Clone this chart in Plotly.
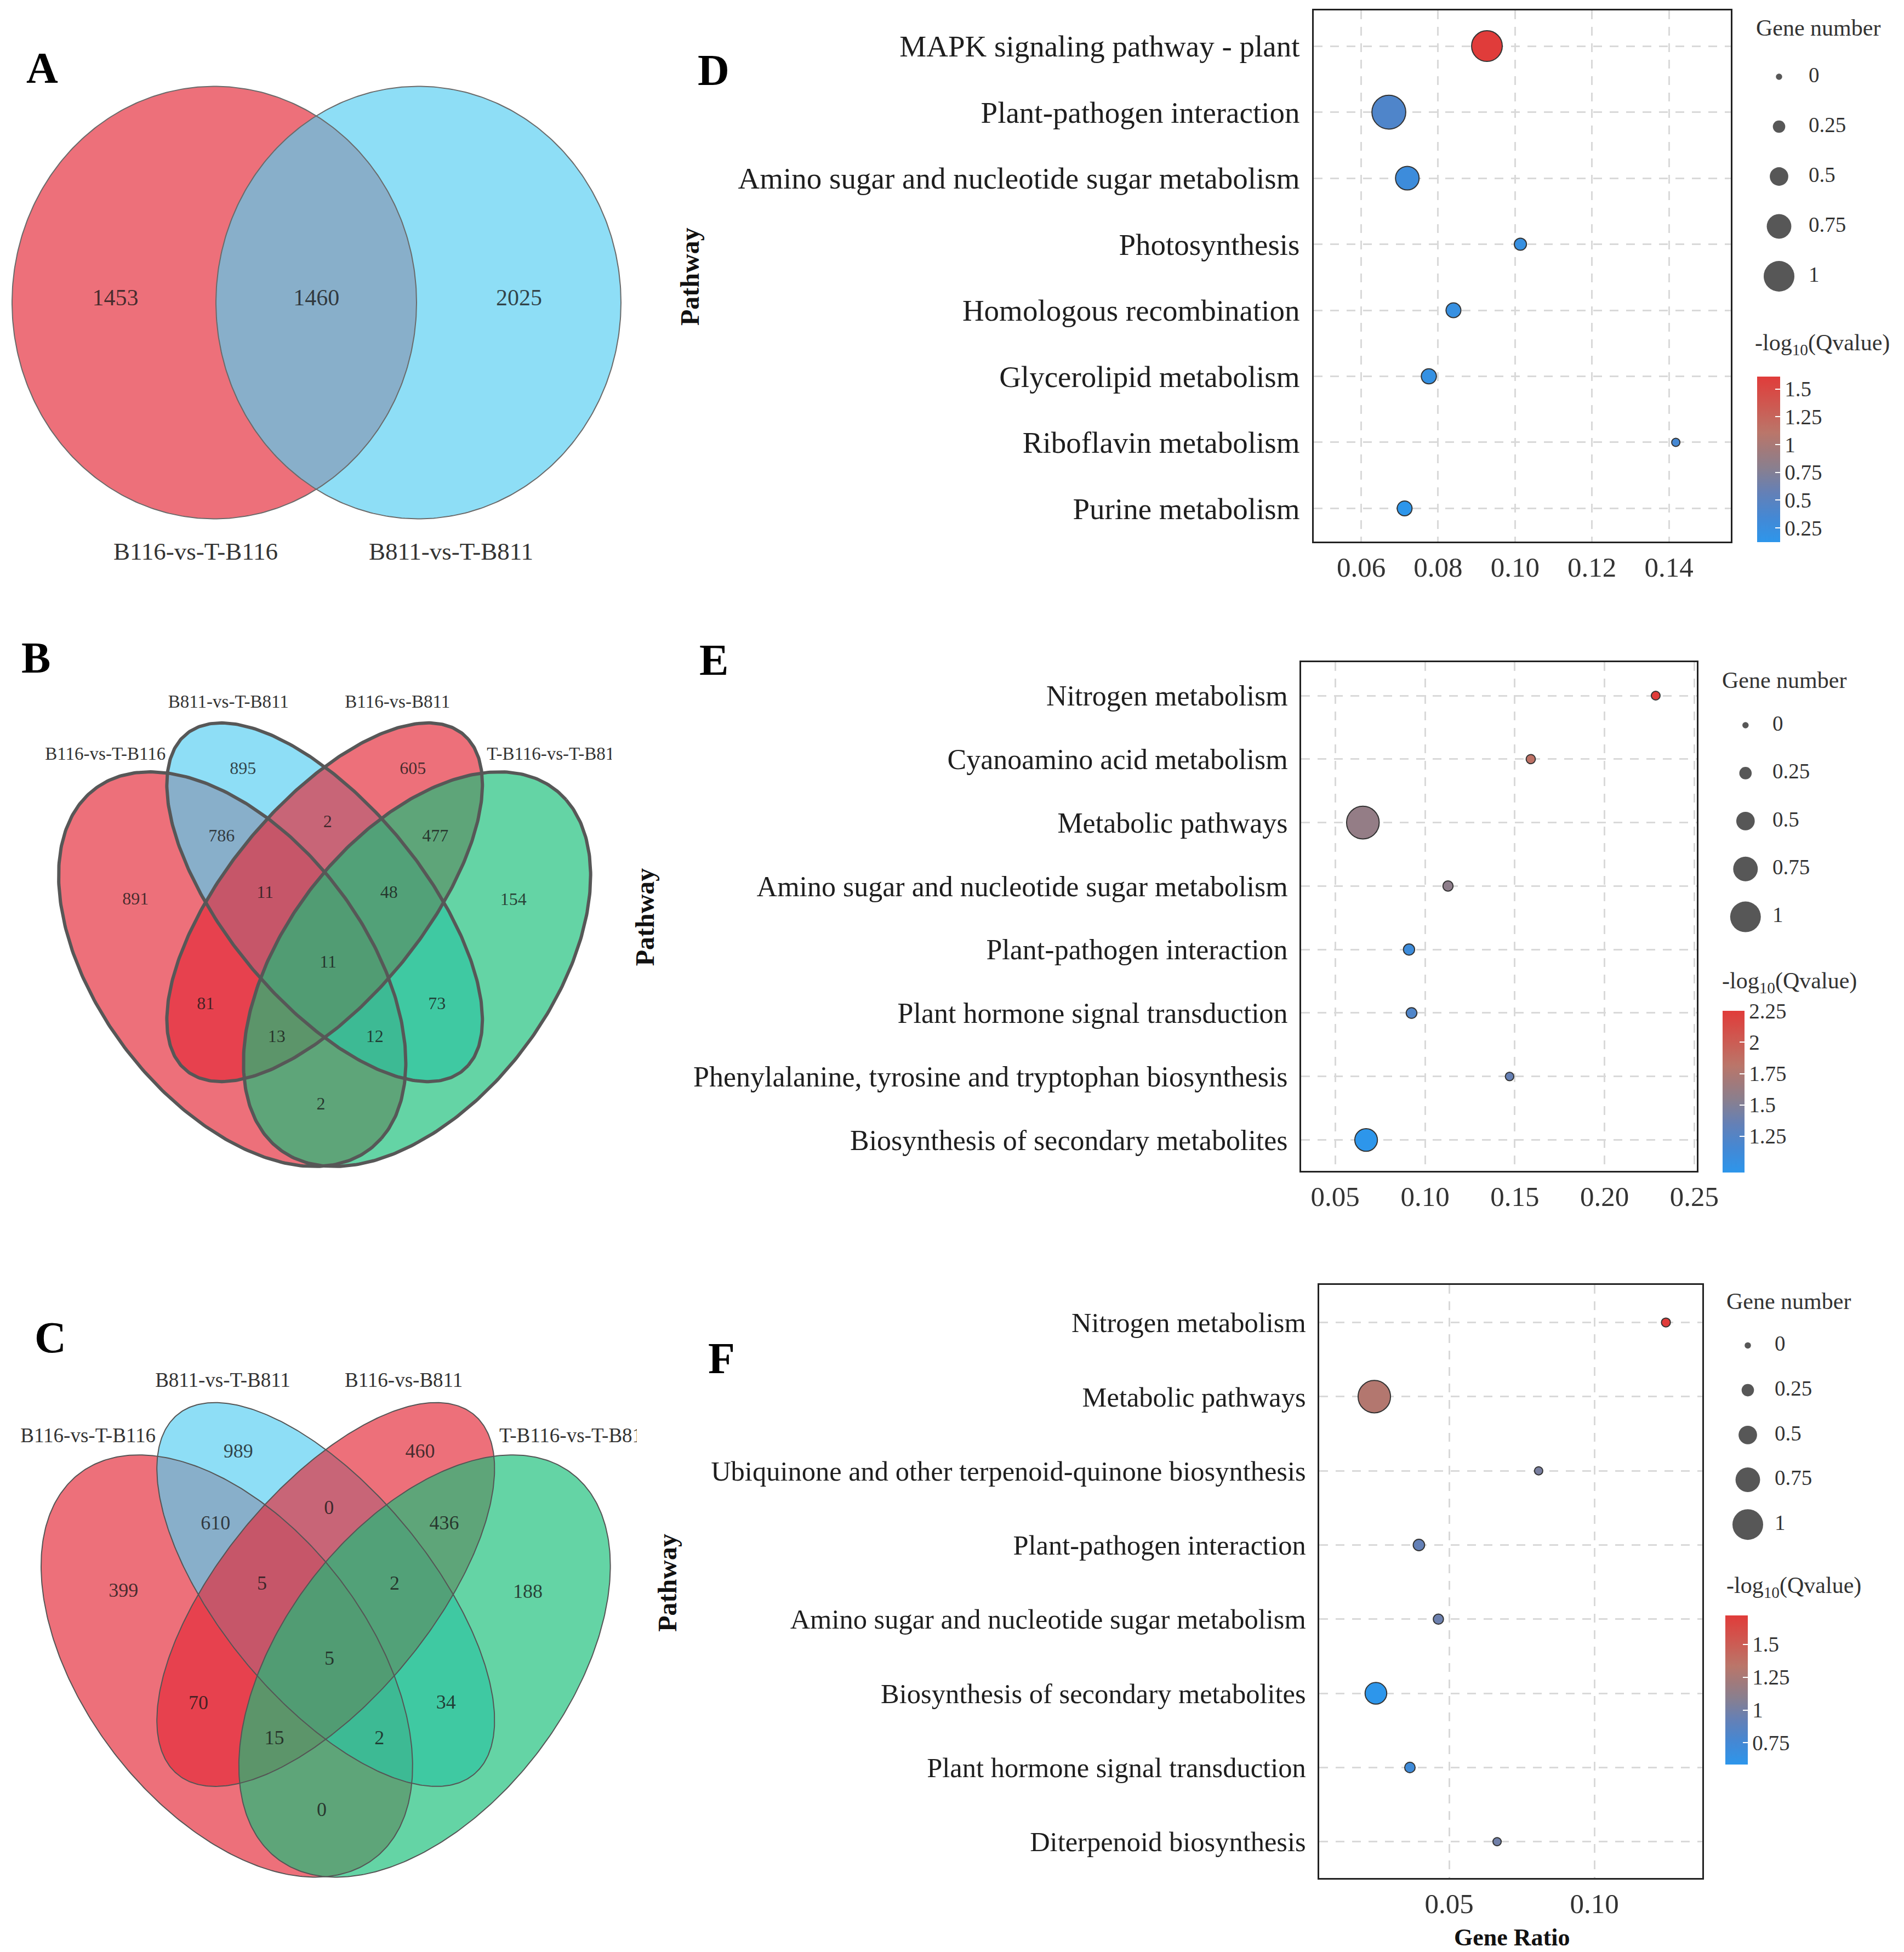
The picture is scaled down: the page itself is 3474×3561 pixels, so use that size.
import numpy as np
import plotly.graph_objects as go

W, H = 3474, 3561
SERIF = "Liberation Serif, Times New Roman, serif"

# ---------------------------------------------------------------- data
venn2_sets = ["B116-vs-T-B116", "B811-vs-T-B811"]
venn2_counts = [1453, 1460, 2025]          # left only, shared, right only

venn4_sets = ["B116-vs-T-B116", "B811-vs-T-B811", "B116-vs-B811", "T-B116-vs-T-B811"]
venn4_regions = ["1", "2", "3", "4", "12", "23", "34", "123", "234", "1234",
                 "13", "24", "134", "124", "14"]
vennB_counts = [891, 895, 605, 154, 786, 2, 477, 11, 48, 11, 81, 73, 13, 12, 2]
vennC_counts = [399, 989, 460, 188, 610, 0, 436, 5, 2, 5, 70, 34, 15, 2, 0]

pathD = ["MAPK signaling pathway - plant", "Plant-pathogen interaction",
         "Amino sugar and nucleotide sugar metabolism", "Photosynthesis",
         "Homologous recombination", "Glycerolipid metabolism",
         "Riboflavin metabolism", "Purine metabolism"]
ratioD = [0.0927, 0.0672, 0.0720, 0.1014, 0.0840, 0.0776, 0.1418, 0.0713]
geneD = [1.00, 1.13, 0.71, 0.24, 0.35, 0.36, 0.08, 0.35]
qD = [1.61, 0.42, 0.28, 0.22, 0.22, 0.20, 0.35, 0.12]

pathE = ["Nitrogen metabolism", "Cyanoamino acid metabolism", "Metabolic pathways",
         "Amino sugar and nucleotide sugar metabolism", "Plant-pathogen interaction",
         "Plant hormone signal transduction",
         "Phenylalanine, tyrosine and tryptophan biosynthesis",
         "Biosynthesis of secondary metabolites"]
ratioE = [0.2285, 0.1589, 0.0654, 0.1128, 0.0911, 0.0925, 0.1471, 0.0672]
geneE = [0.10, 0.12, 1.08, 0.16, 0.20, 0.18, 0.09, 0.67]
qE = [2.25, 1.85, 1.60, 1.56, 1.09, 1.22, 1.35, 0.958]

pathF = ["Nitrogen metabolism", "Metabolic pathways",
         "Ubiquinone and other terpenoid-quinone biosynthesis",
         "Plant-pathogen interaction", "Amino sugar and nucleotide sugar metabolism",
         "Biosynthesis of secondary metabolites", "Plant hormone signal transduction",
         "Diterpenoid biosynthesis"]
ratioF = [0.1246, 0.02425, 0.0808, 0.0396, 0.0463, 0.0248, 0.0365, 0.0665]
geneF = [0.11, 1.07, 0.08, 0.21, 0.16, 0.63, 0.17, 0.08]
qF = [1.719, 1.30, 1.02, 0.92, 0.96, 0.583, 0.72, 0.98]

size_breaks = [0, 0.25, 0.5, 0.75, 1]

# ---------------------------------------------------------------- style / layout constants
def dsize(v):
    return 11.5 + 44.5 * v

CS = [[0.0, "rgb(45,150,235)"], [0.15, "rgb(68,136,212)"], [0.3, "rgb(100,128,182)"],
      [0.45, "rgb(138,127,142)"], [0.55, "rgb(160,122,124)"], [0.66, "rgb(186,118,106)"],
      [0.82, "rgb(205,90,82)"], [1.0, "rgb(224,60,58)"]]

RED = "rgba(228,42,57,0.67)"
BLUE = "rgba(87,206,242,0.67)"
GREEN = "rgba(24,191,121,0.67)"
NUMCOL = "rgba(25,25,25,0.8)"

SX = 0.88
ELL4 = [(-191.6, 122, 437, 261, 45), (0, 0, 421, 192, 45),
        (0, 0, 421, 192, -45), (191.6, 122, 437, 261, -45)]
FILL4 = [RED, BLUE, RED, GREEN]
REG_OFF = {"1": (-345, -4.5), "2": (-149, -242), "3": (161, -242), "4": (344.5, -3),
           "12": (-188, -119.5), "23": (5.5, -145.5), "34": (202, -119.5),
           "123": (-108.6, -16.5), "234": (117.5, -16.5), "1234": (6.3, 111),
           "13": (-217, 187), "24": (205, 186.5), "134": (-87.6, 246.6),
           "124": (91.5, 246.6), "14": (-6.8, 369.8)}
SETLAB = [((-290, -268), "middle left"), ((-175.5, -363), "middle center"),
          ((133, -363), "middle center"), ((296, -268), "middle right")]


def ellipse(cx, cy, a, b, ang, sx=1.0, s=1.0, ox=0.0, oy=0.0, n=400):
    t = np.linspace(0, 2 * np.pi, n)
    c, sn = np.cos(np.radians(ang)), np.sin(np.radians(ang))
    u, v = a * np.cos(t), b * np.sin(t)
    x = cx + s * sx * (ox + u * c - v * sn)
    y = cy + s * (oy + u * sn + v * c)
    return x, y


fig = go.Figure()

# ---------------------------------------------------------------- Venn A
xa, ya = "x", "y"
ellA = [(391, 552, 369, 394.5, RED), (763.5, 552, 369.5, 394.5, BLUE)]
for cx, cy, rx, ry, col in ellA:
    x, y = ellipse(cx, cy, rx, ry, 0)
    fig.add_trace(go.Scatter(x=x, y=y, mode="lines", fill="toself", fillcolor=col,
                             line=dict(width=0, color="rgba(0,0,0,0)"),
                             xaxis=xa, yaxis=ya, hoverinfo="skip"))
for cx, cy, rx, ry, col in ellA:
    x, y = ellipse(cx, cy, rx, ry, 0)
    fig.add_trace(go.Scatter(x=x, y=y, mode="lines", line=dict(width=2, color="#6a6a6a"),
                             xaxis=xa, yaxis=ya, hoverinfo="skip"))
cxL, cxR = ellA[0][0], ellA[1][0]
fig.add_trace(go.Scatter(x=[cxL - 180.5, (cxL + cxR) / 2, cxR + 183.5], y=[546] * 3,
                         mode="text", text=[str(v) for v in venn2_counts],
                         textfont=dict(family=SERIF, size=42, color=NUMCOL),
                         xaxis=xa, yaxis=ya, hoverinfo="skip"))
fig.add_trace(go.Scatter(x=[cxL - 34, cxR + 59.5], y=[1010, 1010], mode="text",
                         text=venn2_sets, textfont=dict(family=SERIF, size=45, color="#333"),
                         xaxis=xa, yaxis=ya, hoverinfo="skip"))


# ---------------------------------------------------------------- Venn B / C
def venn4(counts, cx, cy, s, xa, ya, lw, lcol, nsize, lsize):
    for (ox, oy, a, b, ang), col in zip(ELL4, FILL4):
        x, y = ellipse(cx, cy, a, b, ang, SX, s, ox, oy)
        fig.add_trace(go.Scatter(x=x, y=y, mode="lines", fill="toself", fillcolor=col,
                                 line=dict(width=0, color="rgba(0,0,0,0)"),
                                 xaxis=xa, yaxis=ya, hoverinfo="skip"))
    for (ox, oy, a, b, ang) in ELL4:
        x, y = ellipse(cx, cy, a, b, ang, SX, s, ox, oy)
        fig.add_trace(go.Scatter(x=x, y=y, mode="lines", line=dict(width=lw, color=lcol),
                                 xaxis=xa, yaxis=ya, hoverinfo="skip"))
    fig.add_trace(go.Scatter(
        x=[cx + s * REG_OFF[r][0] for r in venn4_regions],
        y=[cy + s * REG_OFF[r][1] for r in venn4_regions],
        mode="text", text=[str(c) for c in counts],
        textfont=dict(family=SERIF, size=nsize, color=NUMCOL),
        xaxis=xa, yaxis=ya, hoverinfo="skip", cliponaxis=True))
    for name, ((ox, oy), pos) in zip(venn4_sets, SETLAB):
        fig.add_trace(go.Scatter(x=[cx + s * ox], y=[cy + s * oy], mode="text", text=[name],
                                 textposition=pos,
                                 textfont=dict(family=SERIF, size=lsize, color="#333"),
                                 xaxis=xa, yaxis=ya, hoverinfo="skip", cliponaxis=True))


venn4(vennB_counts, 592.3, 1646, 1.0, "x2", "y2", 6, "#575757", 32, 33)
venn4(vennC_counts, 594.3, 2908.8, 1.07, "x3", "y3", 2, "#555555", 36, 37)


# ---------------------------------------------------------------- dot plots
def cbar(x0, ytop, length, thick, tickvals):
    return dict(x=x0 / W, xanchor="left", xref="paper", y=1 - ytop / H, yanchor="top",
                yref="paper", len=length / H, lenmode="fraction", thickness=thick,
                thicknessmode="pixels", xpad=0, ypad=0, outlinewidth=0, ticks="inside",
                ticklen=9, tickwidth=2, tickcolor="white", tickvals=tickvals,
                ticktext=["{:g}".format(v) for v in tickvals],
                tickfont=dict(family=SERIF, size=39, color="#333"))


def dots(ratio, path, gene, q, xa, ya, cb):
    fig.add_trace(go.Scatter(
        x=ratio, y=path, mode="markers", xaxis=xa, yaxis=ya, hoverinfo="skip",
        marker=dict(size=[dsize(g) for g in gene], sizemode="diameter", color=q,
                    colorscale=CS, cmin=min(q), cmax=max(q), showscale=True,
                    line=dict(color="#333333", width=2), opacity=1, colorbar=cb)))


dots(ratioD, pathD, geneD, qD, "x4", "y4", cbar(3205.6, 687.5, 301.5, 42, [0.25, 0.5, 0.75, 1, 1.25, 1.5]))
dots(ratioE, pathE, geneE, qE, "x5", "y5", cbar(3143, 1844.4, 294.6, 40, [1.25, 1.5, 1.75, 2, 2.25]))
dots(ratioF, pathF, geneF, qF, "x6", "y6", cbar(3147.8, 2947.4, 271.8, 41, [0.75, 1, 1.25, 1.5]))

# size legends (overlay axis in pixel units)
for lx, ly0, step, tx in [(3246, 140, 91, 3300), (3184.8, 1323, 87.4, 3234), (3189, 2454.4, 81.7, 3238)]:
    ys = [ly0 + i * step for i in range(len(size_breaks))]
    fig.add_trace(go.Scatter(x=[lx] * len(size_breaks), y=ys, mode="markers",
                             marker=dict(size=[dsize(v) for v in size_breaks], color="#575757",
                                         opacity=1, line=dict(width=0)),
                             xaxis="x7", yaxis="y7", hoverinfo="skip", cliponaxis=False))
    fig.add_trace(go.Scatter(x=[tx] * len(size_breaks), y=ys, mode="text",
                             text=["{:g}".format(v) for v in size_breaks],
                             textposition="middle right",
                             textfont=dict(family=SERIF, size=39, color="#333"),
                             xaxis="x7", yaxis="y7", hoverinfo="skip", cliponaxis=False))


# ---------------------------------------------------------------- axes
def vax(x1, y0, y1):
    xa = dict(domain=[0, x1 / W], range=[0, x1], visible=False, fixedrange=True)
    ya = dict(domain=[1 - y1 / H, 1 - y0 / H], range=[y1, y0], visible=False, fixedrange=True)
    return xa, ya


def dx(box, rng, tickvals, fmt, anchor):
    return dict(domain=[box[0] / W, box[1] / W], range=rng, tickvals=tickvals,
                ticktext=[fmt.format(v) for v in tickvals], showgrid=True,
                gridcolor="#d9d9d9", gridwidth=3, griddash="16px,14px", zeroline=False,
                showline=True, linecolor="#222", linewidth=3, mirror=True,
                ticks="", tickfont=dict(family=SERIF, size=51, color="#333"), anchor=anchor)


def dy(box, rng, cats, fsize, anchor):
    return dict(domain=[1 - box[3] / H, 1 - box[2] / H], type="category",
                categoryorder="array", categoryarray=cats, range=rng, showgrid=True,
                gridcolor="#d9d9d9", gridwidth=3, griddash="16px,14px", zeroline=False,
                showline=True, linecolor="#222", linewidth=3, mirror=True,
                ticks="outside", ticklen=11, tickcolor="rgba(0,0,0,0)",
                tickfont=dict(family=SERIF, size=fsize, color="#1e1e1e"), anchor=anchor)


boxD = (2396.5, 3158, 19, 987.7)
boxE = (2374, 3096, 1208, 2135.6)
boxF = (2406.8, 3106.4, 2344, 3426)

xa1, ya1 = vax(1150, 0, 1100)
xa2, ya2 = vax(1116, 1100, 2250)
xa3, ya3 = vax(1162, 2250, H)

ann = []


def A(text, x, y, size, bold=False, xanchor="center", yanchor="middle", angle=0, color="#222"):
    ann.append(dict(text=f"<b>{text}</b>" if bold else text, x=x / W, y=1 - y / H,
                    xref="paper", yref="paper", showarrow=False, textangle=angle,
                    font=dict(family=SERIF, size=size, color=color),
                    xanchor=xanchor, yanchor=yanchor))


for L, x, y in [("A", 76.5, 124), ("B", 65, 1200), ("C", 92, 2440),
                ("D", 1301.5, 128), ("E", 1302.6, 1204), ("F", 1316, 2478)]:
    A(L, x, y, 80, bold=True, color="#000")
for x, y in [(1258, 505), (1176.7, 1672.6), (1216.7, 2887)]:
    A("Pathway", x, y, 48, bold=True, angle=-90, color="#111")
A("Gene Ratio", 2758, 3534.5, 44, bold=True, color="#111")
for x, y in [(3202, 51), (3140, 1241), (3148, 2374)]:
    A("Gene number", x, y, 42, xanchor="left", color="#333")
for x, y in [(3200, 628), (3140, 1792), (3148, 2895)]:
    A("-log<sub>10</sub>(Qvalue)", x, y, 42, xanchor="left", color="#333")

fig.update_layout(
    width=W, height=H, margin=dict(l=0, r=0, t=0, b=0, pad=0, autoexpand=False),
    paper_bgcolor="white", plot_bgcolor="rgba(0,0,0,0)", showlegend=False,
    font=dict(family=SERIF),
    xaxis=xa1, yaxis=ya1, xaxis2=xa2, yaxis2=ya2, xaxis3=xa3, yaxis3=ya3,
    xaxis4=dx(boxD, [0.0476, 0.1561], [0.06, 0.08, 0.10, 0.12, 0.14], "{:.2f}", "y4"),
    yaxis4=dy(boxD, [7.5, -0.54], pathD, 55, "x4"),
    xaxis5=dx(boxE, [0.031, 0.2514], [0.05, 0.10, 0.15, 0.20, 0.25], "{:.2f}", "y5"),
    yaxis5=dy(boxE, [7.484, -0.527], pathE, 52, "x5"),
    xaxis6=dx(boxF, [0.00525, 0.1372], [0.05, 0.10], "{:.2f}", "y6"),
    yaxis6=dy(boxF, [7.49, -0.507], pathF, 50.5, "x6"),
    xaxis7=dict(domain=[0, 1], range=[0, W], visible=False, fixedrange=True),
    yaxis7=dict(domain=[0, 1], range=[H, 0], visible=False, fixedrange=True),
    annotations=ann,
)

POST = """
var de = document.documentElement, bd = document.body;
de.style.margin = '0'; bd.style.margin = '0'; bd.style.padding = '0';
de.style.overflow = 'hidden'; bd.style.overflow = 'hidden';
"""

fig.write_html("out.html", post_script=POST, config={"displayModeBar": False})
